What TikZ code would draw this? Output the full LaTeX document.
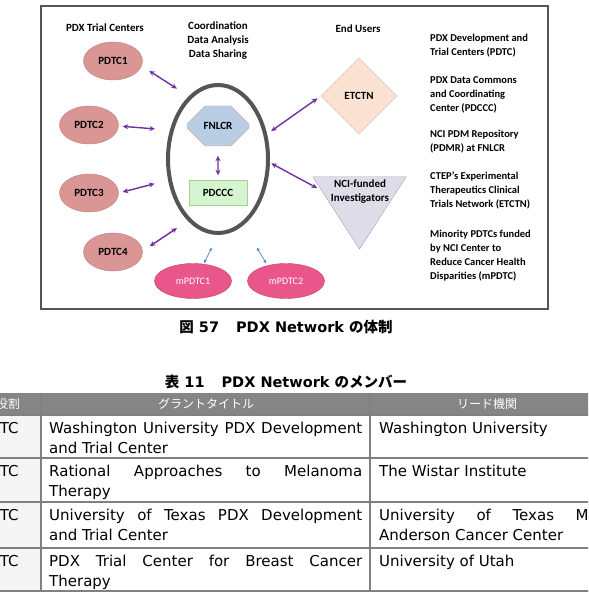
\documentclass[tikz,border=0pt]{standalone}
\usepackage{fontspec}
\setmainfont{DejaVu Sans}
\newfontfamily\dgfont{Carlito}
\newfontfamily\jpfont{Noto Sans CJK JP}
\usepackage{tikz}
\usetikzlibrary{arrows.meta,positioning,calc,shapes.geometric,shapes.misc}
\definecolor{frameg}{HTML}{555555}
\definecolor{pdtcfill}{HTML}{D99694}
\definecolor{pdtcline}{HTML}{C57F7D}
\definecolor{mfill}{HTML}{E8568A}
\definecolor{mline}{HTML}{C93D70}
\definecolor{hexfill}{HTML}{B9CDE5}
\definecolor{hexline}{HTML}{D99694}
\definecolor{pdcccfill}{HTML}{D5F5D0}
\definecolor{pdcccline}{HTML}{A9D18E}
\definecolor{etcfill}{HTML}{FBE2D2}
\definecolor{etcline}{HTML}{C4BDB8}
\definecolor{ncifill}{HTML}{DEDCE8}
\definecolor{nciline}{HTML}{A6A6A6}
\definecolor{linkc}{HTML}{7030A0}
\definecolor{mlinkc}{HTML}{4F81BD}
\definecolor{tabline}{HTML}{808080}
\definecolor{tabhead}{HTML}{858585}

\begin{document}
\begin{tikzpicture}[
  x=1pt, y=-1pt,
  lbl/.style={font=\dgfont\bfseries\fontsize{11}{14}\selectfont,align=center,inner sep=0pt},
  note/.style={font=\dgfont\bfseries\fontsize{10.5}{14}\selectfont,align=left,
               anchor=north west,inner sep=0pt},
  pdtc/.style={ellipse,draw=pdtcline,fill=pdtcfill,minimum width=59pt,minimum height=38pt,lbl},
  mpdtc/.style={ellipse,draw=mline,fill=mfill,text=white,minimum width=77pt,minimum height=35pt,
                font=\dgfont\fontsize{10}{12}\selectfont,inner sep=0pt},
  hub/.style={ellipse,draw=frameg,line width=4pt,minimum width=100pt,minimum height=148pt},
  hexa/.style={chamfered rectangle,chamfered rectangle xsep=9pt,chamfered rectangle ysep=20pt,
               draw=hexline,fill=hexfill,minimum width=62pt,minimum height=40pt,lbl},
  boxg/.style={draw=pdcccline,fill=pdcccfill,minimum width=58pt,minimum height=25pt,lbl},
  dia/.style={diamond,aspect=1,draw=etcline,fill=etcfill,minimum width=76pt,minimum height=76pt,lbl},
  link/.style={{Stealth[length=5.5pt,width=5pt]}-{Stealth[length=5.5pt,width=5pt]},
               line width=1.4pt,draw=linkc},
  mlink/.style={{Stealth[length=3.5pt,width=3pt]}-{Stealth[length=3.5pt,width=3pt]},
                line width=0.7pt,draw=mlinkc},
  captxt/.style={font=\bfseries\fontsize{14.5}{16}\selectfont,inner sep=0pt},
  headtxt/.style={font=\jpfont\fontsize{12}{14}\selectfont,text=white,inner sep=0pt},
  cell/.style={anchor=north west,inner sep=0pt,font=\fontsize{15}{20}\selectfont,align=justify},
  tabrule/.style={draw=tabline,line width=1.4pt},
]
\path[use as bounding box,fill=white] (0,0) rectangle (588,609);

% ---- figure frame
\node[draw=frameg,line width=2pt,fill=white,minimum width=507pt,minimum height=303pt,
      inner sep=0pt] (frame) at (294.5,157.5) {};

% ---- column headings
\node[lbl] (trials) at (105,28) {PDX Trial Centers};
\node[lbl] (coord) at (218,41) {Coordination\\Data Analysis\\Data Sharing};
\node[lbl] (users) at (358,29) {End Users};

% ---- trial centers
\node[pdtc] (pdtc1) at (113,61) {PDTC1};
\node[pdtc] (pdtc2) at (89,125) {PDTC2};
\node[pdtc] (pdtc3) at (89,193) {PDTC3};
\node[pdtc] (pdtc4) at (113,252) {PDTC4};
\node[mpdtc] (mpdtc1) at (193,281) {mPDTC1};
\node[mpdtc] (mpdtc2) at (286,281) {mPDTC2};

% ---- coordination hub
\node[hub] (hub) at (218,159) {};
\node[hexa] (fnlcr) at (218,126) {FNLCR};
\node[boxg] (pdccc) at (218,193) {PDCCC};
\draw[link,shorten <=9.5pt,shorten >=5pt] (fnlcr) -- (pdccc);

% ---- end users
\node[dia] (etctn) at (359,96) {ETCTN};
\node[inner sep=0pt,minimum width=93pt,minimum height=72pt] (nci) at (359.5,213) {};
\filldraw[draw=nciline,fill=ncifill] (nci.north west) -- (nci.north east) -- (nci.south) -- cycle;
\node[lbl] (ncilab) at (360,192) {NCI-funded\\Investigators};

% ---- links
\draw[link,shorten <=9pt,shorten >=14pt] (pdtc1.-10) -- (hub.115);
\draw[link,shorten <=4pt,shorten >=15pt] (pdtc2.-2) -- (hub.149);
\draw[link,shorten <=4pt,shorten >=14pt] (pdtc3.east) -- (hub.203);
\draw[link,shorten <=8.5pt,shorten >=13pt] (pdtc4.2) -- (hub.244);
\draw[link,shorten <=5pt,shorten >=4pt] (hub.27) -- (etctn.west);
\draw[link,shorten <=1.5pt,shorten >=5pt] (hub.-4) -- ($(nci.north west)!0.19!(nci.south)$);
\draw[mlink,shorten <=14pt,shorten >=1pt] (hub.south) -- (mpdtc1.58);
\draw[mlink,shorten <=26pt,shorten >=2.5pt] (hub.-69) -- (mpdtc2.140);

% ---- legend
\node[note] (n1) at (430,34) {PDX Development and\\Trial Centers (PDTC)};
\node[note] (n2) at (430,76) {PDX Data Commons\\and Coordinating\\Center (PDCCC)};
\node[note] (n3) at (430,130) {NCI PDM Repository\\(PDMR) at FNLCR};
\node[note] (n4) at (430,172) {CTEP’s Experimental\\Therapeutics Clinical\\Trials Network (ETCTN)};
\node[note] (n5) at (430,230) {Minority PDTCs funded\\by NCI Center to\\Reduce Cancer Health\\Disparities (mPDTC)};

% ---- captions
\node[captxt] (figcap) at (286,327) {{\jpfont 図} 57\hspace{17pt}PDX Network {\jpfont の体制}};
\node[captxt] (tabcap) at (286,382) {{\jpfont 表} 11\hspace{17pt}PDX Network {\jpfont のメンバー}};

% ---- member table (cut at the page edges)
\begin{scope}
  \clip (0,0) rectangle (588,609);
  \fill[tabhead] (-30,393) rectangle (620,415);
  \fill[gray!8] (-30,415) rectangle (41,591);
  \foreach \ry in {415,458,502,548,591}
    \draw[tabrule] (-30,\ry) -- (620,\ry);
  \foreach \cx in {41,370}
    \draw[tabrule] (\cx,393) -- (\cx,591);
  \node[headtxt] (h1) at (8,404) {役割};
  \node[headtxt] (h2) at (206,404) {グラントタイトル};
  \node[headtxt] (h3) at (487,404) {リード機関};
  \foreach \ry/\rn in {415/r1,458/r2,502/r3,548/r4}
    \node[cell] (\rn a) at (-21,\ry+7) {PDTC};
  \node[cell,text width=313pt] (r1b) at (49,422) {Washington University PDX Development\linebreak and Trial Center};
  \node[cell,text width=313pt] (r2b) at (49,465) {Rational Approaches to Melanoma\linebreak Therapy};
  \node[cell,text width=313pt] (r3b) at (49,509) {University of Texas PDX Development\linebreak and Trial Center};
  \node[cell,text width=313pt] (r4b) at (49,555) {PDX Trial Center for Breast Cancer\linebreak Therapy};
  \node[cell,text width=221pt] (r1c) at (379,422) {Washington University};
  \node[cell,text width=221pt] (r2c) at (379,465) {The Wistar Institute};
  \node[cell,text width=221pt] (r3c) at (379,509) {University of Texas MD\linebreak Anderson Cancer Center};
  \node[cell,text width=221pt] (r4c) at (379,555) {University of Utah};
\end{scope}
\end{tikzpicture}
\end{document}
